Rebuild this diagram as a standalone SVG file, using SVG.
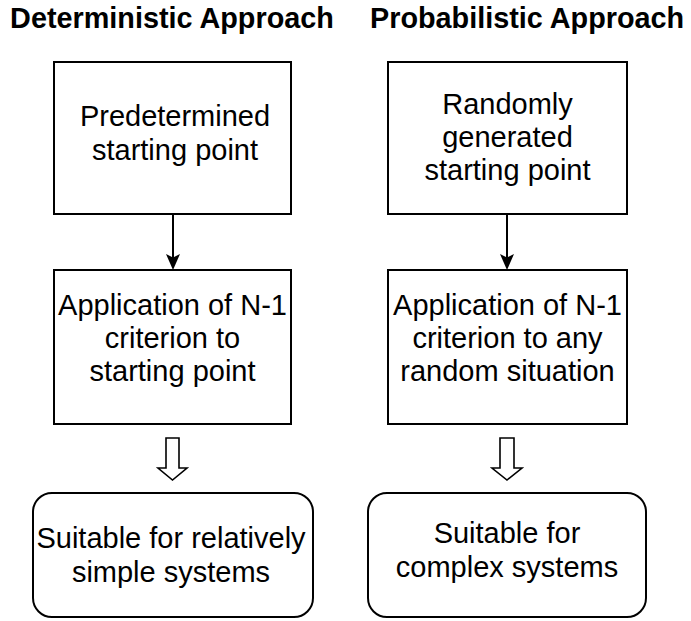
<svg xmlns="http://www.w3.org/2000/svg" width="691" height="621" viewBox="0 0 691 621">
  <style>
    .box { fill: #ffffff; stroke: #000000; stroke-width: 2; }
    .title { font-family: "Liberation Sans", Arial, sans-serif; font-size: 28.8px; font-weight: bold; fill: #000000; }
    .label { font-family: "Liberation Sans", Arial, sans-serif; font-size: 29px; fill: #000000; text-anchor: middle; }
    .link { fill: none; stroke: #000000; stroke-width: 2; }
    .head { fill: #000000; stroke: none; }
    .block { fill: #ffffff; stroke: #000000; stroke-width: 1.6; stroke-linejoin: miter; }
  </style>

  <rect width="691" height="621" fill="#ffffff"/>

  <!-- column headings -->
  <g id="heading-deterministic">
    <text class="title" x="172" y="28" text-anchor="middle">Deterministic Approach</text>
  </g>
  <g id="heading-probabilistic">
    <text class="title" x="370" y="28">Probabilistic Approach</text>
  </g>

  <!-- deterministic column -->
  <g id="det-start">
    <rect class="box" x="54" y="62" width="237" height="152"/>
    <text class="label" x="175" y="126">Predetermined</text>
    <text class="label" x="175" y="159.5">starting point</text>
  </g>
  <g id="det-apply">
    <rect class="box" x="54" y="270" width="237" height="154"/>
    <text class="label" x="172.5" y="315">Application of N-1</text>
    <text class="label" x="172.5" y="348">criterion to</text>
    <text class="label" x="172.5" y="381">starting point</text>
  </g>
  <g id="det-result">
    <rect class="box" x="33" y="493" width="280" height="124" rx="19" ry="19"/>
    <text class="label" x="171" y="548">Suitable for relatively</text>
    <text class="label" x="171" y="582">simple systems</text>
  </g>

  <!-- probabilistic column -->
  <g id="prob-start">
    <rect class="box" x="388" y="62" width="239" height="152"/>
    <text class="label" x="507.5" y="114">Randomly</text>
    <text class="label" x="507.5" y="147">generated</text>
    <text class="label" x="507.5" y="180">starting point</text>
  </g>
  <g id="prob-apply">
    <rect class="box" x="388" y="270" width="239" height="154"/>
    <text class="label" x="507.5" y="315">Application of N-1</text>
    <text class="label" x="507.5" y="348">criterion to any</text>
    <text class="label" x="507.5" y="381">random situation</text>
  </g>
  <g id="prob-result">
    <rect class="box" x="368" y="493" width="278" height="124" rx="19" ry="19"/>
    <text class="label" x="507" y="543">Suitable for</text>
    <text class="label" x="507" y="577">complex systems</text>
  </g>

  <!-- connectors: plain arrows between boxes, hollow block arrows to outcomes -->
  <g id="connectors">
    <line class="link" x1="173" y1="214" x2="173" y2="258"/>
    <path class="head" d="M173,270 L166,254 L173,257.5 L180,254 Z"/>
    <line class="link" x1="507" y1="214" x2="507" y2="258"/>
    <path class="head" d="M507,270 L500,254 L507,257.5 L514,254 Z"/>
    <polygon class="block" points="166,438 179,438 179,468 187,468 172.5,480 158,468 166,468"/>
    <polygon class="block" points="500,438 514,438 514,468 522,468 507,480 492,468 500,468"/>
  </g>
</svg>
